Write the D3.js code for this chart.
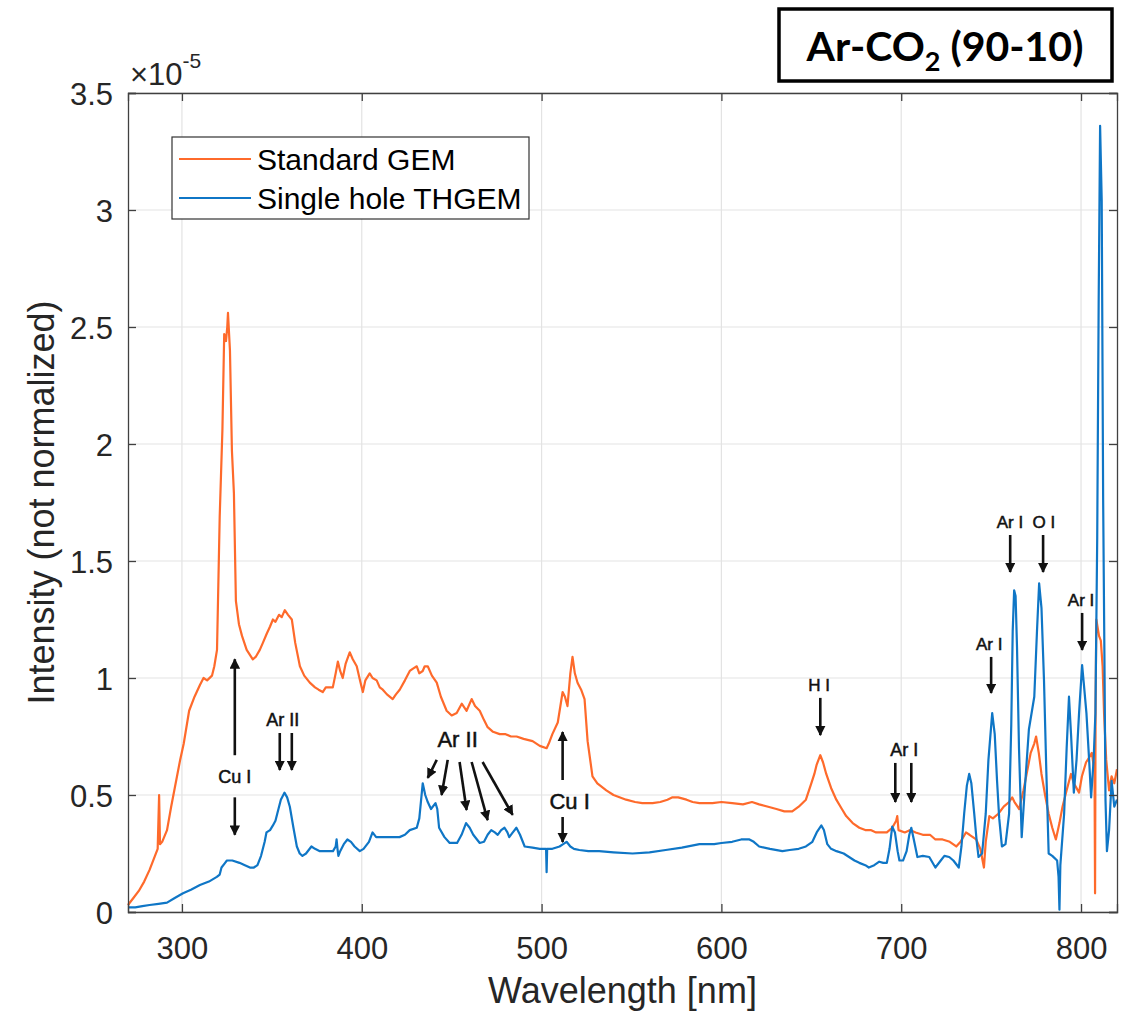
<!DOCTYPE html>
<html>
<head>
<meta charset="utf-8">
<script src="https://cdn.jsdelivr.net/npm/d3@7"></script>
<style>
  body { margin: 0; background: #fff; }
  svg text { font-family: "Liberation Sans", Arial, sans-serif; }
</style>
</head>
<body>
<div class="chart"></div>
<script>
(function(){

//data, intensity in units of 1e-5
var gemWavelength = [270,273,276,279,282,285,286.5,287.3,287.8,289,291.7,294,296,299,301,304,307,310,312,314,316.7,318,319.5,321,322.5,323.5,324.5,325.2,325.6,326.7,327.8,328.9,330,331.7,333.4,336,339.4,341,343.3,345,347.2,349,350.6,352,354,355.5,357.2,359,361.1,363,365.6,368,371.1,374,376,378.3,380,383.9,385.5,386.7,388,389.4,391,393.3,395,397.2,399,400.6,402,404.4,406,408.3,410,411.7,414,417.2,419,421.1,424,426.7,428.5,430.6,432,433.9,435,436.7,439,441.7,444,447.2,450,452.8,455.6,458.3,461.1,463,465.6,468,470,473,476.7,480,483,486.1,490,495,499,502.8,504,506,509,511.7,513,514.4,516,517.2,518.5,520,522,523.9,525.6,528.3,531,536,540,547,552,556,561.7,566,570,572.8,576,580.6,584,587.8,595,600,606,612,617,621,626,630.6,635,639.4,643,647,650,651.7,653,655,656.5,658.3,661,663.9,667,669.4,673,676.7,680,683,686,689.4,692,695,697.2,697.8,698.5,702,705,708,712,716,719,723,727,730.6,733,736,738,741.7,744,746,747,749,751,754,757,760,761.7,763,765.6,768,770,772,774,775,776.5,778,780,782,784,786,788,789.7,792,794.4,796,798.9,800.5,802.8,804.5,806,807.5,807.8,808.1,808.5,810,811,812,812.8,814,815.6,817,818.5,820];
var gemIntensity = [0.03,0.06,0.09,0.13,0.18,0.24,0.27,0.50,0.29,0.30,0.35,0.45,0.53,0.65,0.72,0.86,0.92,0.97,1.00,0.99,1.01,1.05,1.12,1.69,2.06,2.47,2.44,2.50,2.56,2.40,1.97,1.79,1.33,1.23,1.18,1.12,1.08,1.09,1.12,1.15,1.19,1.22,1.25,1.24,1.27,1.26,1.29,1.27,1.25,1.15,1.05,1.01,0.98,0.96,0.95,0.94,0.96,0.96,1.02,1.07,1.03,1.00,1.06,1.11,1.08,1.05,0.99,0.94,0.99,1.02,1.00,0.99,0.96,0.95,0.93,0.91,0.93,0.95,0.99,1.03,1.04,1.05,1.02,1.03,1.05,1.05,1.01,0.98,0.92,0.86,0.84,0.85,0.89,0.86,0.91,0.88,0.86,0.82,0.79,0.77,0.76,0.76,0.75,0.75,0.74,0.73,0.71,0.70,0.72,0.76,0.81,0.94,0.92,0.88,1.02,1.09,1.02,0.98,0.95,0.91,0.73,0.58,0.55,0.52,0.50,0.48,0.47,0.465,0.465,0.47,0.48,0.49,0.49,0.48,0.47,0.465,0.465,0.47,0.465,0.46,0.47,0.46,0.45,0.44,0.43,0.43,0.45,0.48,0.55,0.59,0.63,0.67,0.64,0.59,0.53,0.48,0.44,0.41,0.38,0.36,0.35,0.35,0.34,0.34,0.34,0.36,0.39,0.41,0.35,0.34,0.35,0.34,0.33,0.33,0.31,0.31,0.30,0.28,0.30,0.34,0.33,0.31,0.27,0.19,0.30,0.41,0.40,0.42,0.45,0.47,0.49,0.47,0.44,0.52,0.60,0.68,0.72,0.75,0.68,0.59,0.50,0.42,0.36,0.31,0.38,0.45,0.52,0.59,0.55,0.51,0.58,0.64,0.66,0.68,0.60,0.08,0.90,1.25,1.18,1.16,1.05,0.85,0.65,0.52,0.58,0.55,0.61];

var thgemWavelength = [270,274,278,282,287,291.7,296,300.6,305,310,315,319.4,321,322,324,325,328,332,335,337.8,340,342,344,346,347,349,350.6,352,353,355,357,358.5,360,362,363.9,365.5,367,369,372,374,376.7,380,384,385.5,386,386.5,387,388,390,392,394,396,398.9,401,404,406,408,411.7,415,418,421,424,426.7,430.6,432,433.9,435.3,436.7,438.5,441,442,443,446,448.9,453,455.5,458,460,462,465.6,468,470,472,474,475.6,477.5,479.4,481,482,484,486,488,490.6,495,499,501.7,502.5,502.8,503.1,506,510,512,513.9,516,518,521,526,532,540,550.6,560,569,578,587.8,596,600,606,611,615.6,618,621,627,633.9,638,643,647,650.6,653,655.6,657,658.9,661,664,668,671,674,676.7,680,682,685,687.8,690,692,693.5,695,696.5,698,699,701,703,704.5,705.6,707,709,712,715.6,719,722,724,726.7,729,732,733.5,735,736.5,737.8,739,740.6,742,743,745,747,748.5,750.6,752,753.3,754.5,756,758,760,761.2,762,762.8,763.6,764.4,765.5,767,768.5,771,774,775.5,776.7,778,779.4,780.7,782,784,786.7,787.5,788,788.5,790.6,792,793.3,794.5,796,797.5,798.9,800.6,801.5,803,804.5,805.6,807,808,809,809.8,810.6,811.5,812.3,813,813.6,814.4,815.6,817,818.5,820];
var thgemIntensity = [0.02,0.02,0.025,0.03,0.035,0.04,0.06,0.08,0.095,0.115,0.13,0.15,0.16,0.19,0.21,0.22,0.22,0.21,0.20,0.19,0.19,0.20,0.24,0.30,0.34,0.35,0.37,0.39,0.42,0.48,0.51,0.49,0.45,0.36,0.28,0.25,0.24,0.25,0.28,0.27,0.26,0.26,0.26,0.28,0.31,0.27,0.24,0.26,0.29,0.31,0.30,0.28,0.26,0.27,0.30,0.34,0.32,0.32,0.32,0.32,0.32,0.33,0.35,0.36,0.40,0.55,0.50,0.47,0.44,0.465,0.44,0.36,0.32,0.295,0.295,0.33,0.38,0.36,0.33,0.295,0.30,0.33,0.35,0.34,0.33,0.35,0.36,0.34,0.32,0.34,0.36,0.33,0.28,0.275,0.27,0.27,0.27,0.17,0.27,0.27,0.28,0.29,0.30,0.28,0.27,0.265,0.26,0.26,0.255,0.25,0.255,0.265,0.275,0.29,0.29,0.295,0.30,0.31,0.31,0.30,0.28,0.27,0.26,0.265,0.27,0.28,0.30,0.34,0.37,0.35,0.29,0.27,0.26,0.25,0.235,0.22,0.21,0.20,0.19,0.20,0.215,0.21,0.21,0.27,0.365,0.34,0.26,0.22,0.22,0.26,0.33,0.36,0.31,0.235,0.24,0.235,0.19,0.22,0.24,0.235,0.22,0.19,0.28,0.42,0.54,0.59,0.55,0.42,0.30,0.235,0.25,0.42,0.65,0.85,0.76,0.56,0.40,0.28,0.29,0.42,0.80,1.20,1.375,1.35,1.13,0.70,0.32,0.50,0.78,0.92,1.20,1.405,1.30,0.99,0.60,0.25,0.24,0.22,0.15,0.01,0.20,0.42,0.70,0.92,0.75,0.51,0.65,0.85,1.055,0.98,0.85,0.65,0.49,0.65,0.85,1.60,2.60,3.36,3.04,1.76,1.10,0.48,0.26,0.35,0.56,0.45,0.48];

var seriesNames = ["Standard GEM", "Single hole THGEM"];
var seriesColors = ["#fe6a2b", "#0f76c6"];

var xTicks = [300, 400, 500, 600, 700, 800];
var yTicks = [0, 0.5, 1, 1.5, 2, 2.5, 3, 3.5];

//annotation labels: text, wavelength, intensity
var labelText = ["Cu I", "Ar II", "Ar II", "Cu I", "H I", "Ar I", "Ar I", "Ar I  O I", "Ar I"];
var labelWl   = [329.4, 356.1, 453.3, 515.6, 654.4, 701.7, 748.9, 769.4, 800];
var labelI    = [0.551, 0.795, 0.705, 0.44, 0.944, 0.667, 1.12, 1.641, 1.308];
var labelSize = [18, 18, 22, 22, 17, 18, 17, 17, 17];

//arrows: from [wl, I] to [wl, I]
var arrowFrom = [[329.4,0.67],[329.4,0.49],[354.4,0.765],[361.1,0.765],[441.7,0.65],[447.8,0.65],[454.4,0.641],[461.1,0.641],[467.2,0.641],[511.7,0.564],[511.7,0.406],[655,0.915],[696.7,0.637],[705.6,0.637],[750,1.09],[760.6,1.611],[778.9,1.611],[800.6,1.278]];
var arrowTo   = [[329.4,1.08],[329.4,0.33],[354.4,0.607],[361.1,0.607],[436.7,0.573],[444.4,0.50],[458.3,0.436],[470,0.393],[483.9,0.415],[511.7,0.769],[511.7,0.299],[655,0.756],[696.7,0.47],[705.6,0.47],[750,0.936],[760.6,1.453],[778.9,1.453],[800.6,1.12]];

window.onload = drawChart();

function drawChart(){

    var width = 1125,
        height = 1013;
    var margin = {left: 128, right: 8, top: 93, bottom: 101};

    var svg = d3.select(".chart")
        .append("svg")
        .attr("width", width)
        .attr("height", height);

    svg.append("rect")
        .attr("width", width)
        .attr("height", height)
        .attr("fill", "#fff");

    var x = d3.scaleLinear()
        .domain([270, 820])
        .range([margin.left, width - margin.right]);

    var y = d3.scaleLinear()
        .domain([0, 3.5])
        .range([height - margin.bottom, margin.top]);

    var x0 = x.range()[0], x1 = x.range()[1],
        y0 = y.range()[0], y1 = y.range()[1];

    //grid
    var grid = svg.append("g").attr("class", "grid");
    grid.selectAll(".vgrid")
        .data(xTicks)
        .enter()
        .append("line")
        .attr("x1", function(d){ return x(d); })
        .attr("x2", function(d){ return x(d); })
        .attr("y1", y1)
        .attr("y2", y0)
        .attr("stroke", "#e3e3e3")
        .attr("stroke-width", 1.2);
    grid.selectAll(".hgrid")
        .data(yTicks)
        .enter()
        .append("line")
        .attr("y1", function(d){ return y(d); })
        .attr("y2", function(d){ return y(d); })
        .attr("x1", x0)
        .attr("x2", x1)
        .attr("stroke", "#e3e3e3")
        .attr("stroke-width", 1.2);

    //lines
    var line = d3.line()
        .x(function(d){ return x(d[0]); })
        .y(function(d){ return y(d[1]); });

    var gemData = d3.zip(gemWavelength, gemIntensity);
    var thgemData = d3.zip(thgemWavelength, thgemIntensity);

    svg.append("path")
        .datum(gemData)
        .attr("d", line)
        .attr("fill", "none")
        .attr("stroke", seriesColors[0])
        .attr("stroke-width", 2.2)
        .attr("stroke-linejoin", "round");

    svg.append("path")
        .datum(thgemData)
        .attr("d", line)
        .attr("fill", "none")
        .attr("stroke", seriesColors[1])
        .attr("stroke-width", 2.2)
        .attr("stroke-linejoin", "round");

    //axes, matlab style ticks inside
    var axisColor = "#404040";
    var tickLen = 8;

    var xAxis = d3.axisBottom(x)
        .tickValues(xTicks)
        .tickSize(-tickLen)
        .tickPadding(25);
    var gx = svg.append("g")
        .attr("transform", "translate(0," + y0 + ")")
        .call(xAxis);

    var yAxis = d3.axisLeft(y)
        .tickValues(yTicks)
        .tickFormat(function(d){ return d3.format("")(d); })
        .tickSize(-tickLen)
        .tickPadding(15);
    var gy = svg.append("g")
        .attr("transform", "translate(" + x0 + ",0)")
        .call(yAxis);

    var gxTop = svg.append("g")
        .attr("transform", "translate(0," + y1 + ")")
        .call(d3.axisTop(x).tickValues(xTicks).tickSize(-tickLen).tickFormat(""));
    var gyRight = svg.append("g")
        .attr("transform", "translate(" + x1 + ",0)")
        .call(d3.axisRight(y).tickValues(yTicks).tickSize(-tickLen).tickFormat(""));

    [gx, gy, gxTop, gyRight].forEach(function(g){
        g.select(".domain").attr("stroke", axisColor).attr("stroke-width", 1.3);
        g.selectAll(".tick line").attr("stroke", axisColor).attr("stroke-width", 1.3);
        g.selectAll(".tick text")
            .attr("fill", "#262626")
            .style("font-size", "31px")
            .style("font-family", "'Liberation Sans', Arial, sans-serif");
    });
    gx.selectAll(".tick text").attr("dy", "0.71em");
    gy.selectAll(".tick text").attr("dy", "0.36em");

    //exponent
    var expo = svg.append("text")
        .attr("x", x0 + 2)
        .attr("y", 85)
        .attr("fill", "#262626")
        .style("font-size", "31px");
    expo.append("tspan").text("\u00d710");
    expo.append("tspan")
        .attr("dy", -17)
        .style("font-size", "21px")
        .text("-5");

    //axis labels
    svg.append("text")
        .attr("x", (x0 + x1) / 2)
        .attr("y", 1003)
        .attr("text-anchor", "middle")
        .attr("fill", "#262626")
        .style("font-size", "36px")
        .text("Wavelength [nm]");

    svg.append("text")
        .attr("transform", "translate(54," + ((y0 + y1) / 2) + ") rotate(-90)")
        .attr("text-anchor", "middle")
        .attr("fill", "#262626")
        .style("font-size", "36px")
        .text("Intensity (not normalized)");

    //legend
    var legend = svg.append("g").attr("transform", "translate(172,137)");
    legend.append("rect")
        .attr("width", 357)
        .attr("height", 82)
        .attr("fill", "#fff")
        .attr("stroke", "#333")
        .attr("stroke-width", 1.2);
    seriesNames.forEach(function(name, i){
        var ly = 22 + i * 39;
        legend.append("line")
            .attr("x1", 7).attr("x2", 79)
            .attr("y1", ly).attr("y2", ly)
            .attr("stroke", seriesColors[i])
            .attr("stroke-width", 2.2);
        legend.append("text")
            .attr("x", 85)
            .attr("y", ly)
            .attr("dy", "0.36em")
            .attr("fill", "#000")
            .style("font-size", "30px")
            .text(name);
    });

    //annotations
    var defs = svg.append("defs");
    defs.append("marker")
        .attr("id", "head")
        .attr("viewBox", "0 0 10 10")
        .attr("refX", 9)
        .attr("refY", 5)
        .attr("markerWidth", 4)
        .attr("markerHeight", 4)
        .attr("markerUnits", "strokeWidth")
        .attr("orient", "auto")
        .append("path")
        .attr("d", "M0,0 L10,5 L0,10 z")
        .attr("fill", "#111");

    svg.selectAll(".arrow")
        .data(d3.zip(arrowFrom, arrowTo))
        .enter()
        .append("line")
        .attr("class", "arrow")
        .attr("x1", function(d){ return x(d[0][0]); })
        .attr("y1", function(d){ return y(d[0][1]); })
        .attr("x2", function(d){ return x(d[1][0]); })
        .attr("y2", function(d){ return y(d[1][1]); })
        .attr("stroke", "#111")
        .attr("stroke-width", 2.6)
        .attr("marker-end", "url(#head)");

    svg.selectAll(".note")
        .data(d3.range(labelText.length))
        .enter()
        .append("text")
        .attr("class", "note")
        .attr("x", function(i){ return x(labelWl[i]); })
        .attr("y", function(i){ return y(labelI[i]); })
        .attr("text-anchor", "middle")
        .attr("fill", "#111")
        .attr("stroke", "#111")
        .attr("stroke-width", 0.5)
        .style("font-size", function(i){ return labelSize[i] + "px"; })
        .style("white-space", "pre")
        .text(function(i){ return labelText[i]; });

    //title box
    svg.append("rect")
        .attr("x", 779)
        .attr("y", 9)
        .attr("width", 333)
        .attr("height", 72)
        .attr("fill", "#fff")
        .attr("stroke", "#000")
        .attr("stroke-width", 3.5);
    var title = svg.append("text")
        .attr("x", 945)
        .attr("y", 61)
        .attr("text-anchor", "middle")
        .attr("fill", "#000")
        .style("font-family", "Lato, 'Open Sans', sans-serif")
        .style("font-weight", "bold")
        .style("font-size", "41px");
    title.append("tspan").text("Ar-CO");
    title.append("tspan").attr("dy", 10).style("font-size", "27px").text("2");
    title.append("tspan").attr("dy", -10).text(" (90-10)");
};

})();
</script>
</body>
</html>
